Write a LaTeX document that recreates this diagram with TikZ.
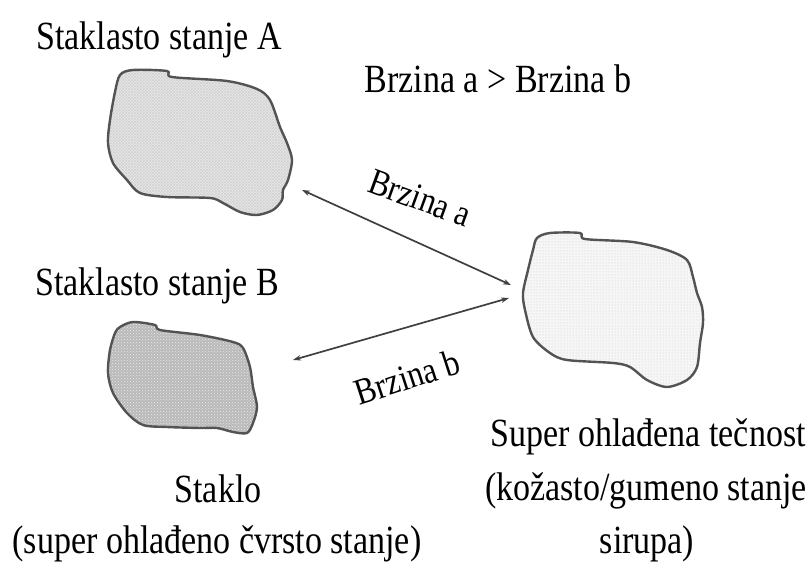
\documentclass[tikz,border=0pt]{standalone}
\usepackage{fontspec}
\setmainfont{Liberation Serif}[FakeStretch=0.85]
\usetikzlibrary{arrows.meta,patterns}

\begin{document}
\begin{tikzpicture}[x=1pt,y=-1pt,
  blob/.style={draw=gray!65!black, line width=2.4pt, line join=round},
  lbl/.style={inner sep=0pt, anchor=base, font=\fontsize{40}{50}\selectfont},
  ratelbl/.style={inner sep=0pt, anchor=center, font=\fontsize{37}{44}\selectfont},
  rate/.style={draw=gray!50!black, line width=1.7pt,
    {Stealth[length=8pt,width=5.5pt]}-{Stealth[length=8pt,width=5.5pt]}},
]
\useasboundingbox (0,0) rectangle (811,569);

% glassy state A
\draw[blob, preaction={fill=gray!18}, preaction={pattern=crosshatch, pattern color=gray!35}]
  plot[smooth cycle, tension=0.5] coordinates {
  (120,75) (133,70) (167,71) (172,77) (227,81) (257,89) (270,100) (280,127)
  (287,143) (292,160) (288,180) (283,190) (282,200) (273,210) (257,215)
  (240,212) (223,203) (210,198) (167,197) (140,193) (127,180) (113,163)
  (108,143) (110,120) (115,92)};

% glassy state B
\draw[blob, preaction={fill=gray!55}, preaction={pattern=crosshatch dots, pattern color=gray!15}]
  plot[smooth cycle, tension=0.5] coordinates {
  (120,327) (133,322) (155,325) (160,330) (200,335) (233,342) (243,348)
  (250,367) (253,387) (257,407) (253,423) (247,433) (233,432) (217,428)
  (200,428) (167,427) (143,425) (127,413) (113,393) (108,373) (110,350)
  (115,333)};

% supercooled liquid
\draw[blob, preaction={fill=gray!7}, preaction={pattern=dots, pattern color=gray!40}]
  plot[smooth cycle, tension=0.5] coordinates {
  (537,238) (550,233) (580,233) (585,239) (633,242) (667,250) (687,260)
  (693,277) (697,293) (702,307) (703,323) (700,343) (697,367) (687,380)
  (667,387) (647,380) (630,367) (613,363) (567,360) (550,353) (533,337)
  (525,310) (523,293) (528,270) (533,250)};

% arrow end points
\coordinate (aA) at (302,190);
\coordinate (aC) at (511,285);
\coordinate (bC) at (509,298);
\coordinate (bB) at (293,360);

\draw[rate] (aA) -- (aC);
\draw[rate] (bC) -- (bB);

\node[ratelbl, rotate=-20] (ra) at (420,198) {Brzina a};
\node[ratelbl, rotate=18] (rb) at (407,377) {Brzina b};

% labels
\node[lbl] (tA) at (159,50) {Staklasto stanje A};
\node[lbl] (cmp) at (498,93) {Brzina a > Brzina b};
\node[lbl] (tB) at (157,296) {Staklasto stanje B};
\node[lbl] (g1) at (218,502) {Staklo};
\node[lbl] (g2) at (217,553) {(super ohlađeno čvrsto stanje)};
\node[lbl] (l1) at (648,446) {Super ohlađena tečnost};
\node[lbl] (l2) at (646,500) {(kožasto/gumeno\ stanje};
\node[lbl] (l3) at (647,553) {sirupa)};
\end{tikzpicture}
\end{document}
